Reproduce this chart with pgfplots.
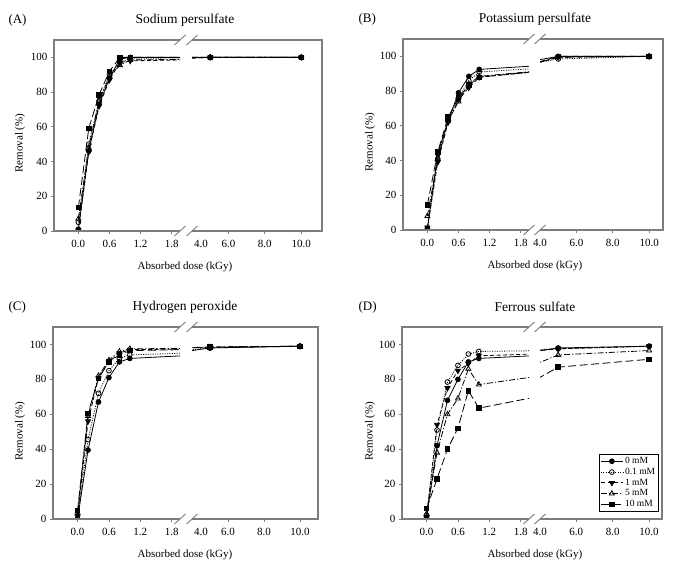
\documentclass[border=0pt]{standalone}
\usepackage{fontspec}
\setmainfont{Liberation Serif}
\usepackage{pgfplots}
\usepackage{pgfplotstable}
\pgfplotsset{compat=1.18}

\definecolor{framegray}{RGB}{125,125,125}

% Removal (%) versus absorbed dose (kGy) for 0, 0.1, 1, 5 and 10 mM additive
\pgfplotstableread{
dose m0   m01  m1   m5   m10
0.0  1    5    0.5  7    13.5
0.2  46   50   45.5 48   59
0.4  73   75   72   75   78.5
0.6  88   90   87   89   92
0.8  99   97   97   95.5 100
1.0  100  99.5 98   98.5 100
5.0  100  100  100  100  100
10.0 100  100  100  100  100
}\dataA

\pgfplotstableread{
dose m0   m01  m1   m5   m10
0.0  1    0    1.5  8    14.5
0.2  44   41   39   41   45
0.4  63   63   62   63   65
0.6  79   76   75   74   76
0.8  88.5 86   82   84   83.5
1.0  92.5 91   88   88.5 88
5.0  100  98.5 99.5 99.5 100
10.0 100  100  100  100  100
}\dataB

\pgfplotstableread{
dose m0   m01  m1   m5   m10
0.0  0    0.5  2    3    5
0.2  39.5 45.5 56   59   60.5
0.4  67   72   81   82   80.5
0.6  81   85   90   91   90
0.8  90   92   95   96   94
1.0  92   94   97   97.5 96.5
5.0  98   98   98.5 98.5 98.5
10.0 99   99   99   99   99
}\dataC

\pgfplotstableread{
dose m0   m01  m1   m5   m10
0.0  1    2    1    3    6
0.2  42   51   54   38   23
0.4  68   78.5 75   60   40
0.6  80   88   85   69   52
0.8  90   94.5 89   86   73.5
1.0  92   96   93.5 77   63.5
5.0  98   97.5 97.5 94   87
10.0 99   99   99   96.5 91.5
}\dataD

\pgfplotsset{
  base/.style={
    scale only axis, ymin=0, ymax=110,
    axis line style={draw=none},
    tick align=outside, tick pos=left, major tick length=3pt,
    tick style={framegray, line width=0.8pt},
    clip marker paths=true,
    ticklabel style={font=\fontsize{11}{13}\selectfont, text=black},
    xticklabel style={yshift=-2.5pt},
    /pgf/number format/assume math mode=true,
  },
  leftseg/.style={base, xmin=-0.47, xmax=1.96,
    ytick={0,20,...,100},
    xtick={0,0.6,1.2,1.8}, xticklabels={0.0,0.6,1.2,1.8}},
  rightseg/.style={base, xmin=4, ytick=\empty,
    xtick={6,8,10}, xticklabels={6.0,8.0,10.0},
    extra x ticks={#1}, extra x tick labels={4.0},
    extra x tick style={tick style={draw=none}}},
  s0/.style={black, line width=0.8pt, solid, mark=*, mark size=2.4pt, mark options={solid}},
  s01/.style={black, line width=0.8pt, dash pattern=on 1pt off 1.4pt, mark=o, mark size=2.4pt, mark options={solid, fill=white}},
  s1/.style={black, line width=0.8pt, dash pattern=on 4pt off 2.5pt, mark=triangle*, mark size=2.9pt, mark options={solid, rotate=180}},
  s5/.style={black, line width=0.8pt, dash pattern=on 6pt off 2pt on 1.2pt off 2pt, mark=triangle, mark size=2.9pt, mark options={solid, fill=white}},
  s10/.style={black, line width=0.8pt, dash pattern=on 8pt off 3.5pt, mark=square*, mark size=2.3pt, mark options={solid}},
}

\newcommand{\seriesplots}[1]{%
  \addplot[s0]  table[x=dose, y=m0]  {#1};
  \addplot[s01] table[x=dose, y=m01] {#1};
  \addplot[s1]  table[x=dose, y=m1]  {#1};
  \addplot[s5]  table[x=dose, y=m5]  {#1};
  \addplot[s10] table[x=dose, y=m10] {#1};
}

% open frame on each side of the break, with the // marks
\newcommand{\brokenframe}[2]{%
  \draw[framegray, line width=1.1pt] (#1.south east) -- (#1.south west) -- (#1.north west) -- (#1.north east);
  \draw[framegray, line width=1.1pt] (#2.south west) -- (#2.south east) -- (#2.north east) -- (#2.north west);
  \foreach \a in {#1.north east, #1.south east, #2.north west, #2.south west}
    \draw[framegray, line width=0.9pt] ([shift={(-5.5pt,-5pt)}]\a) -- ([shift={(5.5pt,5pt)}]\a);
}

\newcommand{\paneltext}[6]{% x-left, x-centre, y-top of axis, y-bottom of axis, letter, title
  \node[font=\fontsize{13}{15}\selectfont, anchor=west] at (#1, #3+20pt) {#5};
  \node[font=\fontsize{13.5}{15}\selectfont] at (#2, #3+20pt) {#6};
  \node[font=\fontsize{11}{13}\selectfont] at (#2, #4-36pt) {Absorbed dose (kGy)};
  \node[font=\fontsize{11}{13}\selectfont, rotate=90] at (#1+15pt, #4+88pt) {Removal (\%)};
}

\begin{document}
\begin{tikzpicture}
\useasboundingbox (0pt,0pt) rectangle (675pt,-565pt);

% (A) Sodium persulfate
\begin{axis}[leftseg, name=AL, at={(54pt,-231pt)}, anchor=south west, width=126pt, height=191pt]
\seriesplots{\dataA}
\end{axis}
\begin{axis}[rightseg=4.5, name=AR, at={(192pt,-231pt)}, anchor=south west, width=130pt, height=191pt, xmax=11.14]
\seriesplots{\dataA}
\end{axis}
\brokenframe{AL}{AR}
\paneltext{5pt}{185pt}{-40pt}{-231pt}{(A)}{Sodium persulfate}

% (B) Potassium persulfate
\begin{axis}[leftseg, name=BL, at={(403pt,-230pt)}, anchor=south west, width=126pt, height=191pt]
\seriesplots{\dataB}
\end{axis}
\begin{axis}[rightseg=4.0, name=BR, at={(540pt,-230pt)}, anchor=south west, width=123pt, height=191pt, xmax=10.76]
\seriesplots{\dataB}
\end{axis}
\brokenframe{BL}{BR}
\paneltext{355pt}{535pt}{-39pt}{-230pt}{(B)}{Potassium persulfate}

% (C) Hydrogen peroxide
\begin{axis}[leftseg, name=CL, at={(53pt,-519pt)}, anchor=south west, width=127pt, height=192pt]
\seriesplots{\dataC}
\end{axis}
\begin{axis}[rightseg=4.5, name=CR, at={(192pt,-519pt)}, anchor=south west, width=126pt, height=192pt, xmax=11.0]
\seriesplots{\dataC}
\end{axis}
\brokenframe{CL}{CR}
\paneltext{5pt}{185pt}{-327pt}{-519pt}{(C)}{Hydrogen peroxide}

% (D) Ferrous sulfate
\begin{axis}[leftseg, name=DL, at={(402pt,-519pt)}, anchor=south west, width=127pt, height=192pt]
\seriesplots{\dataD}
\end{axis}
\begin{axis}[rightseg=4.0, name=DR, at={(540pt,-519pt)}, anchor=south west, width=122pt, height=192pt, xmax=10.71,
  legend style={at={(0.975,0.036)}, anchor=south east, draw=black, line width=0.6pt,
    font=\fontsize{9.5}{11}\selectfont, inner sep=1.5pt, row sep=-1pt,
    cells={anchor=west}},
  legend image code/.code={\draw[mark repeat=2, mark phase=2] plot coordinates {(0cm,0cm) (0.38cm,0cm) (0.76cm,0cm)};}]
\seriesplots{\dataD}
\legend{0 mM, 0.1 mM, 1 mM, 5 mM, 10 mM}
\end{axis}
\brokenframe{DL}{DR}
\paneltext{355pt}{535pt}{-327pt}{-519pt}{(D)}{Ferrous sulfate}

\end{tikzpicture}
\end{document}
